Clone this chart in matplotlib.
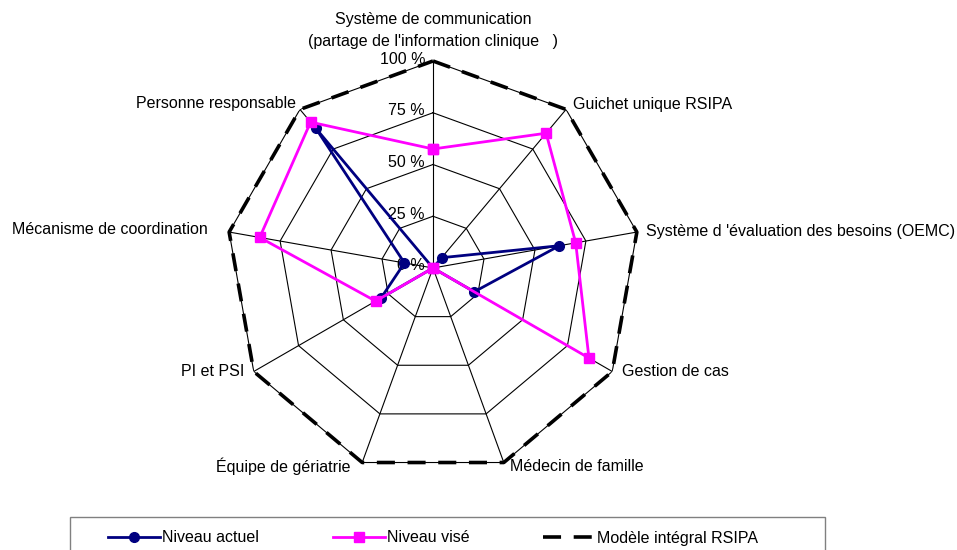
import numpy as np
import matplotlib.pyplot as plt
from matplotlib.patches import Rectangle

plt.rcParams['font.family'] = ['Liberation Sans', 'DejaVu Sans']

categories = ["Système de communication\n(partage de l'information clinique   )",
              "Guichet unique RSIPA",
              "Système d 'évaluation des besoins (OEMC)",
              "Gestion de cas",
              "Médecin de famille",
              "Équipe de gériatrie",
              "PI et PSI",
              "Mécanisme de coordination",
              "Personne responsable"]
niveau_actuel = [0, 6.5, 62, 23, 0, 0, 29, 14, 88]
niveau_vise = [57.5, 85, 70, 87, 0, 0, 32, 85, 92]
modele_integral = [100, 100, 100, 100, 100, 100, 100, 100, 100]
rticks = [0, 25, 50, 75, 100]
rtick_labels = ["0 %", "25 %", "50 %", "75 %", "100 %"]

# label placement: offset in pixels from the 100% vertex, alignment
label_pos = [((0, 12), 'center', 'bottom'),
             ((7, 5), 'left', 'center'),
             ((9, 1), 'left', 'center'),
             ((10, 0), 'left', 'center'),
             ((6, -4), 'left', 'center'),
             ((-12, -4), 'right', 'center'),
             ((-9, 0), 'right', 'center'),
             ((-21, 3), 'right', 'center'),
             ((-4, 6), 'right', 'center')]

FS = 11.5

n = len(categories)
angles = np.linspace(0, 2 * np.pi, n, endpoint=False)
closed = np.append(angles, angles[0])


def close(vals):
    return np.append(vals, vals[0])


fig = plt.figure(figsize=(9.57, 5.5), dpi=100)
ax = fig.add_axes([226 / 957, 75 / 550, 414 / 957, 414 / 550], projection='polar')
ax.set_theta_zero_location('N')
ax.set_theta_direction(-1)
ax.set_ylim(0, 100)
ax.grid(False)
ax.set_xticks([])
ax.set_yticks([])
ax.spines['polar'].set_visible(False)
ax.patch.set_visible(False)

# polygon grid and spokes
for r in rticks[1:]:
    ax.plot(closed, [r] * (n + 1), color='black', lw=0.8, zorder=1)
for a in angles:
    ax.plot([a, a], [0, 100], color='black', lw=0.8, zorder=1)

for r, lab in zip(rticks, rtick_labels):
    ax.annotate(lab, xy=(0, r), xytext=(-8, 2), textcoords='offset pixels',
                ha='right', va='center', fontsize=FS, zorder=2)

for cat, a, (off, ha, va) in zip(categories, angles, label_pos):
    ax.annotate(cat, xy=(a, 100), xytext=off, textcoords='offset pixels',
                ha=ha, va=va, fontsize=FS, linespacing=1.6, annotation_clip=False)

l1, = ax.plot(closed, close(niveau_actuel), color='#000080', lw=2, marker='o',
              markersize=7, label='Niveau actuel', zorder=4)
l2, = ax.plot(closed, close(niveau_vise), color='#FF00FF', lw=2, marker='s',
              markersize=7, label='Niveau visé', zorder=5)
l3, = ax.plot(closed, close(modele_integral), color='black', lw=2.6,
              dashes=(5, 3.5), label='Modèle intégral RSIPA', zorder=3)
for l in (l1, l2, l3):
    l.set_clip_on(False)

fig.patches.append(Rectangle((70 / 957, -0.01), 755 / 957, 33 / 550 + 0.01,
                             transform=fig.transFigure, fill=False,
                             edgecolor='#808080', lw=1))
fig.legend(handles=[l1, l2, l3], loc='center left',
           bbox_to_anchor=(108 / 957, 12 / 550), ncol=3, frameon=False,
           fontsize=FS, handlelength=3.25, handletextpad=0.15,
           columnspacing=4.6, borderpad=0, borderaxespad=0)

fig.savefig('out.png', dpi=100)
